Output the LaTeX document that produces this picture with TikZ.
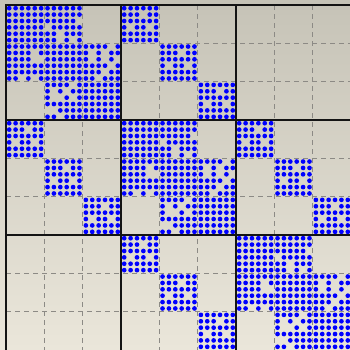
\documentclass[tikz,border=0pt]{standalone}
\usepackage{tikz}
\usepackage{xcolor}
\definecolor{bgtop}{HTML}{C6C3B7}
\definecolor{bgbot}{HTML}{EAE6DA}
\definecolor{gridgray}{HTML}{8C8A85}
\definecolor{nzblue}{HTML}{0000FF}
\tikzset{
  blockline/.style={draw=black!92, line width=1.6pt},
  subline/.style={draw=gridgray, line width=0.9pt, dash pattern=on 5pt off 4pt},
  nzdot/.style={fill=nzblue}
}
\def\nzstep{6.389}
\newcommand{\offpat}{{1,1,1,1,1,1},{1,1,1,0,1,1},{1,1,1,1,1,1},{1,0,1,1,0,1},{1,1,1,1,1,1},{1,1,1,1,1,1}}
\newcommand{\diagpat}{%
{1,1,1,1,1,1,1,1,1,1,1,1,0,0,0,0,0,0},
{1,1,1,1,1,1,1,1,1,1,1,1,0,0,0,0,0,0},
{1,1,1,1,1,1,1,1,1,1,1,0,0,0,0,0,0,0},
{1,1,1,1,1,1,0,1,1,1,1,1,0,0,0,0,0,0},
{1,1,1,1,1,1,1,1,0,1,1,1,0,0,0,0,0,0},
{1,1,1,1,1,1,1,1,0,1,0,1,0,0,0,0,0,0},
{1,1,1,1,1,1,1,1,1,1,1,1,1,1,1,1,0,1},
{1,1,1,1,0,1,1,1,1,1,1,1,1,0,1,0,1,1},
{1,1,1,1,0,0,1,1,1,1,1,1,1,0,1,0,1,0},
{1,1,1,1,1,1,1,1,1,1,1,1,1,1,1,1,0,1},
{1,1,1,1,1,1,1,1,1,1,1,1,1,1,1,0,1,1},
{1,1,0,1,0,1,1,1,1,1,1,1,1,1,0,1,1,1},
{0,0,0,0,0,0,1,1,1,1,0,1,1,1,1,1,1,1},
{0,0,0,0,0,0,1,0,1,0,1,1,1,1,1,1,1,1},
{0,0,0,0,0,0,1,0,0,1,0,1,1,1,1,1,1,1},
{0,0,0,0,0,0,1,1,1,1,1,1,1,1,1,1,1,1},
{0,0,0,0,0,0,0,0,1,1,1,1,1,1,1,1,1,1},
{0,0,0,0,0,0,1,1,0,1,1,1,1,1,1,1,1,1}}

\begin{document}
\begin{tikzpicture}[x=1pt, y=-1pt]
  \useasboundingbox (0,0) rectangle (350,349);
  \shade[top color=bgtop, bottom color=bgbot] (0,0) rectangle (350,349);
  \foreach \k in {1,2,4,5,7,8}{
    \draw[subline] ({6+38.333*\k},5) -- ({6+38.333*\k},352);
    \draw[subline] (6,{5+38.333*\k}) -- (352,{5+38.333*\k});
  }
  \foreach \bi in {0,1,2}{
    \foreach \bj in {0,1,2}{
      \pgfmathtruncatemacro\gap{abs(\bi-\bj)}
      \ifnum\gap=0
        \foreach \row [count=\ri from 0] in \diagpat {
          \foreach \bit [count=\ci from 0] in \row {
            \ifnum\bit=1
              \fill[nzdot] ({6+\nzstep*(18*\bj+\ci+0.5)},{5+\nzstep*(18*\bi+\ri+0.5)}) circle (2.35pt);
            \fi
          }
        }
      \fi
      \ifnum\gap=1
        \foreach \s in {0,1,2}{
          \foreach \row [count=\ri from 0] in \offpat {
            \foreach \bit [count=\ci from 0] in \row {
              \ifnum\bit=1
                \fill[nzdot] ({6+\nzstep*(18*\bj+6*\s+\ci+0.5)},{5+\nzstep*(18*\bi+6*\s+\ri+0.5)}) circle (2.35pt);
              \fi
            }
          }
        }
      \fi
    }
  }
  \foreach \k in {0,1,2}{
    \draw[blockline] ({6+115*\k},4.2) -- ({6+115*\k},352);
    \draw[blockline] (5.2,{5+115*\k}) -- (352,{5+115*\k});
  }
\end{tikzpicture}
\end{document}
